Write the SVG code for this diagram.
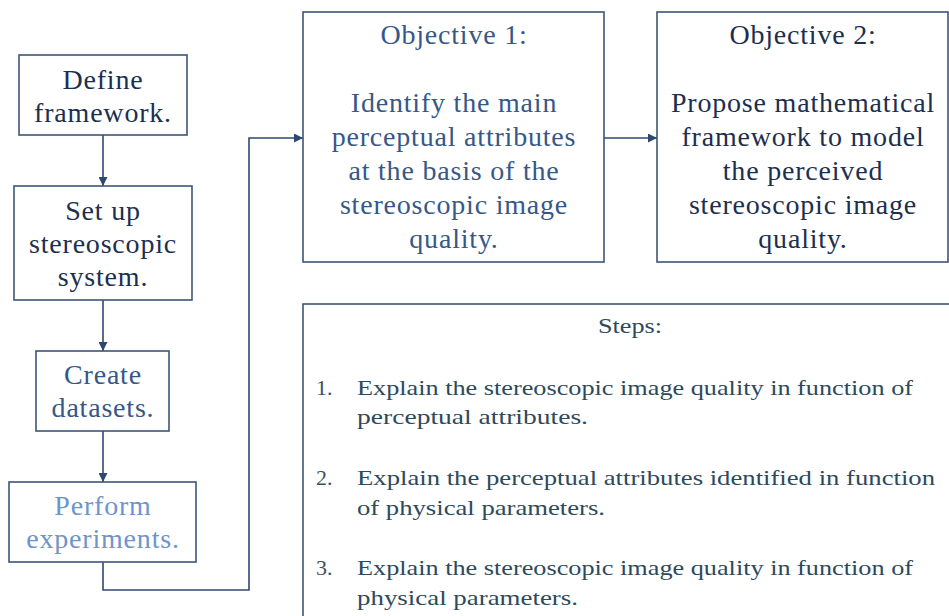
<svg xmlns="http://www.w3.org/2000/svg" width="949" height="616" viewBox="0 0 949 616">
<style>
.box{fill:#fff;stroke:#3d5578;stroke-width:1.6}
.t{font-family:"Liberation Serif","DejaVu Serif",serif;font-size:28px;letter-spacing:0.8px;text-anchor:middle}
.dk{fill:#1c2f4f}
.md{fill:#365888}
.lt{fill:#6d94cc}
.st{font-family:"Liberation Serif","DejaVu Serif",serif;font-size:22px;fill:#2c4a5c}
.num{fill:#3d5060}
.conn{fill:none;stroke:#2f4870;stroke-width:1.6}
</style>
<defs>
<marker id="ah" viewBox="0 0 10 10" refX="10" refY="5" markerWidth="9" markerHeight="9" markerUnits="userSpaceOnUse" orient="auto">
<path d="M0,0 L10,5 L0,10 z" fill="#2f4870"/>
</marker>
</defs>
<g id="connectors">
<line class="conn" x1="103" y1="135" x2="103" y2="186" marker-end="url(#ah)"/>
<line class="conn" x1="103" y1="300" x2="103" y2="351" marker-end="url(#ah)"/>
<line class="conn" x1="103" y1="431" x2="103" y2="482" marker-end="url(#ah)"/>
<path class="conn" d="M103,562 V590 H249 V138 H303" marker-end="url(#ah)"/>
<line class="conn" x1="604" y1="138" x2="657" y2="138" marker-end="url(#ah)"/>
</g>
<g id="define">
<rect class="box" x="19" y="55" width="168" height="80"/>
<text class="t dk" x="103" y="89">Define</text>
<text class="t dk" x="103" y="122">framework.</text>
</g>
<g id="setup">
<rect class="box" x="14" y="186" width="178" height="114"/>
<text class="t dk" x="103" y="220">Set up</text>
<text class="t dk" x="103" y="253">stereoscopic</text>
<text class="t dk" x="103" y="286">system.</text>
</g>
<g id="create">
<rect class="box" x="36" y="351" width="133" height="80"/>
<text class="t md" x="103" y="384">Create</text>
<text class="t md" x="103" y="417">datasets.</text>
</g>
<g id="perform">
<rect class="box" x="9" y="482" width="187" height="80"/>
<text class="t lt" x="103" y="515">Perform</text>
<text class="t lt" x="103" y="548">experiments.</text>
</g>
<g id="objective1">
<rect class="box" x="303" y="12" width="301" height="250"/>
<text class="t md" x="454" y="44">Objective 1:</text>
<text class="t md" x="454" y="112">Identify the main</text>
<text class="t md" x="454" y="146">perceptual attributes</text>
<text class="t md" x="454" y="180">at the basis of the</text>
<text class="t md" x="454" y="214">stereoscopic image</text>
<text class="t md" x="454" y="248">quality.</text>
</g>
<g id="objective2">
<rect class="box" x="657" y="12" width="291" height="250"/>
<text class="t dk" x="803" y="44">Objective 2:</text>
<text class="t dk" x="803" y="112">Propose mathematical</text>
<text class="t dk" x="803" y="146">framework to model</text>
<text class="t dk" x="803" y="180">the perceived</text>
<text class="t dk" x="803" y="214">stereoscopic image</text>
<text class="t dk" x="803" y="248">quality.</text>
</g>
<g id="steps">
<rect class="box" x="303" y="304" width="660" height="330"/>
<text class="st" x="598" y="333" font-size="20" textLength="64" lengthAdjust="spacingAndGlyphs">Steps:</text>
<text class="st num" x="316" y="395">1.</text>
<text class="st" x="357" y="395" textLength="556" lengthAdjust="spacingAndGlyphs">Explain the stereoscopic image quality in function of</text>
<text class="st" x="357" y="424" textLength="231" lengthAdjust="spacingAndGlyphs">perceptual attributes.</text>
<text class="st num" x="316" y="485">2.</text>
<text class="st" x="357" y="485" textLength="578" lengthAdjust="spacingAndGlyphs">Explain the perceptual attributes identified in function</text>
<text class="st" x="357" y="515" textLength="248" lengthAdjust="spacingAndGlyphs">of physical parameters.</text>
<text class="st num" x="316" y="575">3.</text>
<text class="st" x="357" y="575" textLength="556" lengthAdjust="spacingAndGlyphs">Explain the stereoscopic image quality in function of</text>
<text class="st" x="357" y="605" textLength="221" lengthAdjust="spacingAndGlyphs">physical parameters.</text>
</g>
</svg>
